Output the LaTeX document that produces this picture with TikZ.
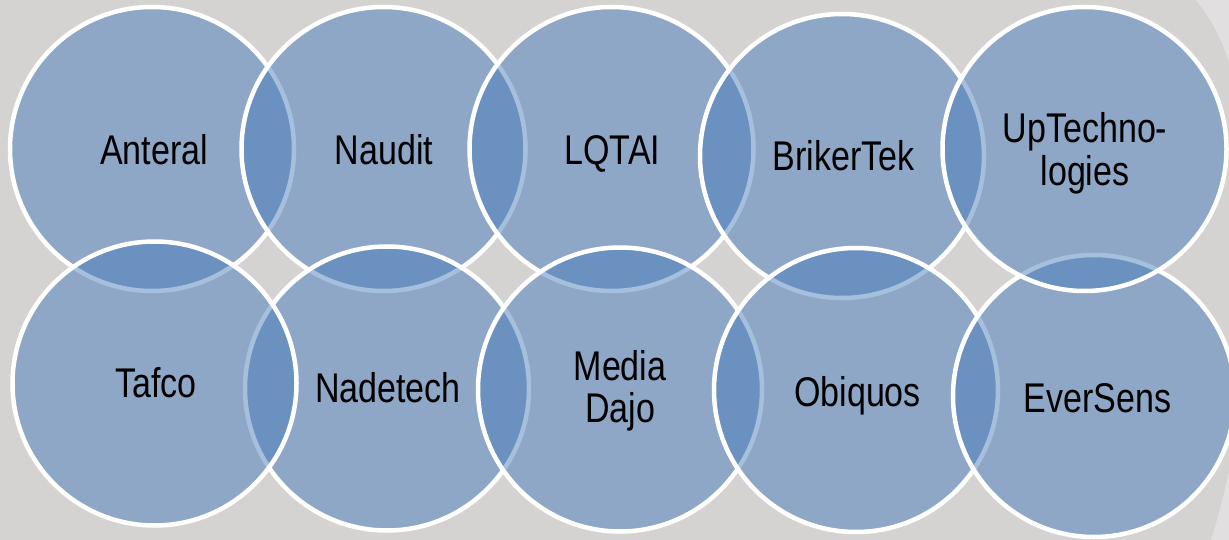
\documentclass[tikz,border=0pt]{standalone}
\usepackage{fontspec}
\setmainfont{Liberation Sans}[FakeStretch=0.82]
\definecolor{bgcol}{RGB}{213,210,210}
\definecolor{circcol}{RGB}{67,122,186}
\begin{document}
\begin{tikzpicture}[x=1pt,y=-1pt,
  venn/.style={circle, minimum size=284pt, inner sep=0pt, fill=circcol, fill opacity=0.48, draw=white, draw opacity=1, line width=4.5pt},
  lab/.style={anchor=base, inner sep=0pt, text=black, font=\fontsize{41.5}{42}\selectfont}]
\fill[bgcol] (0,0) rectangle (1229,540);
\useasboundingbox (0,0) rectangle (1229,540);
% faint decorative band at the right edge
\fill[white, opacity=0.3] (1196,0) .. controls (1212,20) and (1222,40) .. (1229,62) -- (1229,0) -- cycle;
\fill[white, opacity=0.3] (1229,470) .. controls (1224,495) and (1218,518) .. (1211,540) -- (1229,540) -- cycle;
% circles (drawing order matters for the borders)
\node[venn] (cA) at (152,149) {};
\node[venn] (cB) at (383.5,149) {};
\node[venn] (cC) at (611.5,149) {};
\node[venn] (cD) at (842,156) {};
\node[venn] (cG) at (387,388.5) {};
\node[venn] (cF) at (154.5,383.5) {};
\node[venn] (cH) at (620,389.5) {};
\node[venn] (cI) at (856,390) {};
\node[venn, minimum size=282pt] (cJ) at (1094,396) {};
\node[venn] (cE) at (1084.5,149) {};
% labels
\node[lab] (tA) at (154,165) {Anteral};
\node[lab] (tB) at (384,165) {Naudit};
\node[lab] (tC) at (612.5,165) {LQTAI};
\node[lab] (tD) at (843.5,171) {BrikerTek};
\node[lab] (tE) at (1085,143) {\begin{tabular}[t]{@{}c@{}}UpTechno-\\logies\end{tabular}};
\node[lab] (tF) at (156,397) {Tafco};
\node[lab] (tG) at (388,402) {Nadetech};
\node[lab] (tH) at (620,380) {\begin{tabular}[t]{@{}c@{}}Media\\Dajo\end{tabular}};
\node[lab] (tI) at (857.5,406) {Obiquos};
\node[lab] (tJ) at (1097.5,412) {EverSens};
\end{tikzpicture}
\end{document}
